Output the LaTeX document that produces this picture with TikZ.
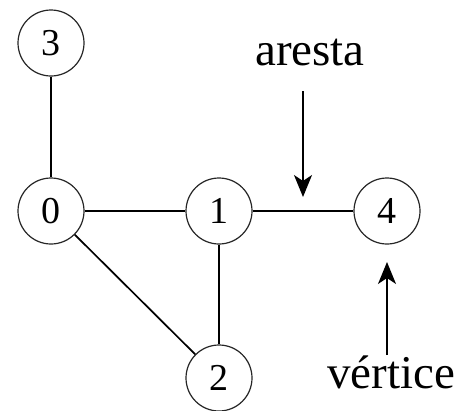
\documentclass[tikz,border=0pt]{standalone}
\usepackage{fontspec}
\setmainfont{Liberation Serif}
\usetikzlibrary{arrows.meta}
\begin{document}
\begin{tikzpicture}[x=1pt,y=-1pt,
  vertex/.style={circle,draw=black!85,line width=1.2pt,minimum size=66pt,inner sep=0pt,
    font=\fontsize{38}{38}\selectfont},
  edge/.style={line width=1.7pt},
  pointer/.style={line width=1.7pt,-{Stealth[length=22pt,width=18pt,inset=6pt]}},
  label/.style={anchor=base,inner sep=0pt,font=\fontsize{47}{47}\selectfont}]
\useasboundingbox (0,0) rectangle (460,410);
% vertices
\node[vertex] (n3) at (51,43) {3};
\node[vertex] (n0) at (51,211) {0};
\node[vertex] (n1) at (219,211) {1};
\node[vertex] (n4) at (387,211) {4};
\node[vertex] (n2) at (219,378) {2};
% edges
\draw[edge] (n3) -- (n0);
\draw[edge] (n0) -- (n1);
\draw[edge] (n1) -- (n4);
\draw[edge] (n1) -- (n2);
\draw[edge] (n0) -- (n2);
% annotations
\node[label] (aresta) at (310,65) {aresta};
\node[label] (vertice) at (391,388) {vértice};
\coordinate (atip) at (303,197);
\coordinate (atail) at (303,91);
\coordinate (vtip) at (387,262);
\coordinate (vtail) at (387,355);
\draw[pointer] (atail) -- (atip);
\draw[pointer] (vtail) -- (vtip);
\end{tikzpicture}
\end{document}
